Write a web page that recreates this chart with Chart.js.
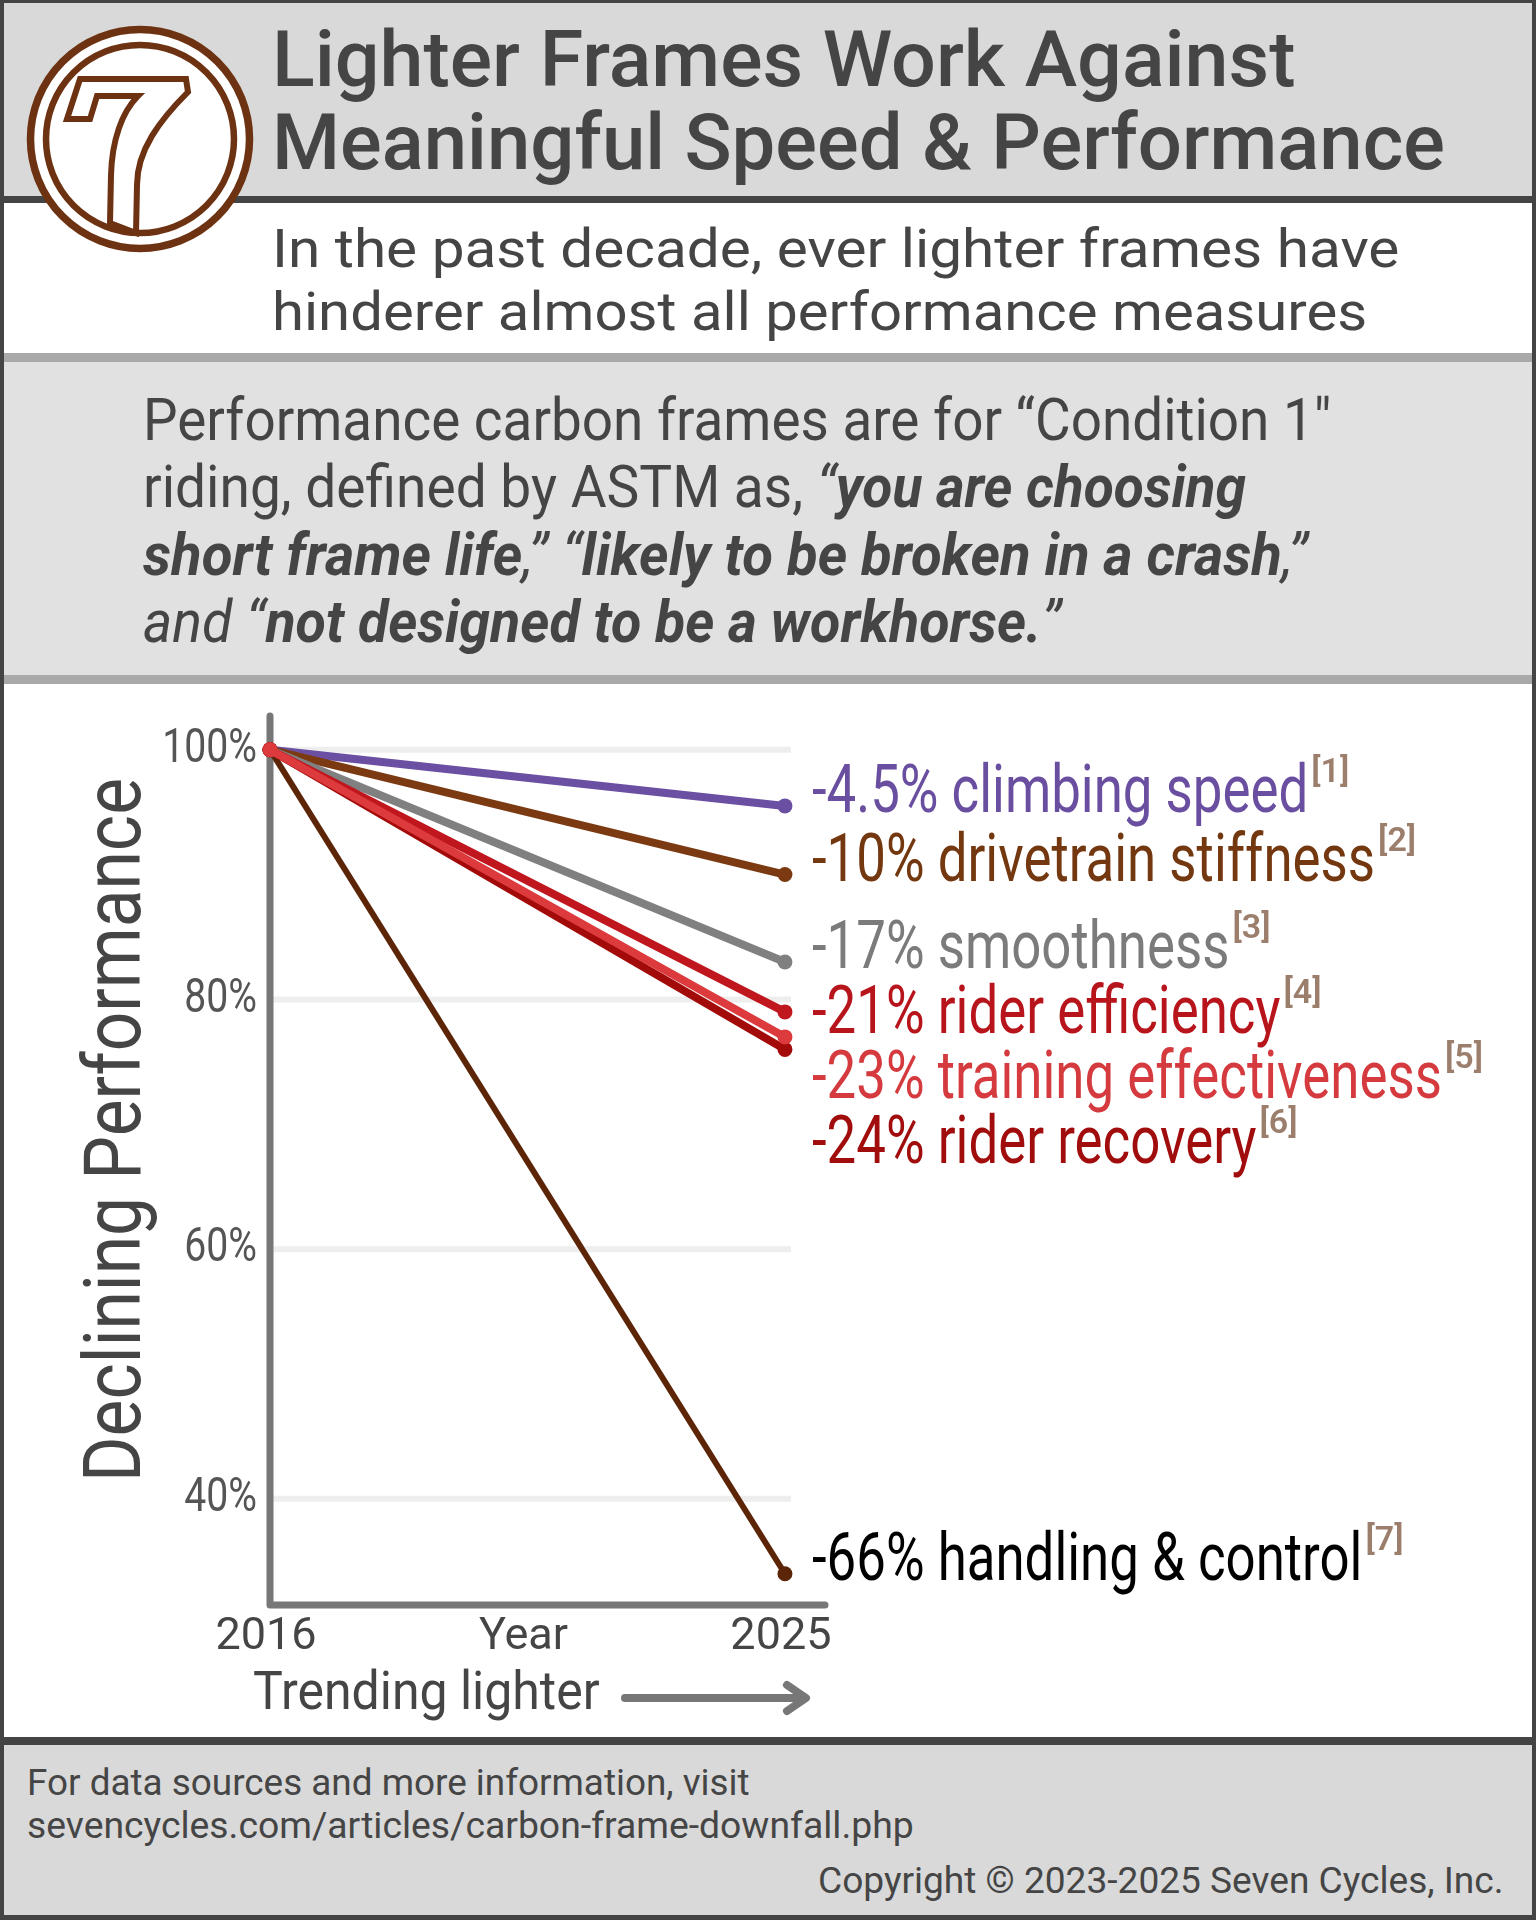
<!DOCTYPE html>
<html>
<head>
<meta charset="utf-8">
<script src="https://cdn.jsdelivr.net/npm/chart.js@4.4.1/dist/chart.umd.min.js"></script>
<style>
  html, body { margin: 0; padding: 0; }
  body { width: 1536px; height: 1920px; position: relative; overflow: hidden; background: #444; font-family: Roboto, sans-serif; }
  .blk { position: absolute; left: 4px; width: 1528px; }
  .t { position: absolute; white-space: nowrap; line-height: 1; transform-origin: 0 0; color: #454545; }
  .t b { font-weight: 700; }
</style>
</head>
<body>
<script>
// ---- data ----
const years = [2016, 2025];
const climbingSpeed = [100, 95.5];
const drivetrainStiffness = [100, 90];
const smoothness = [100, 83];
const riderEfficiency = [100, 79];
const trainingEffectiveness = [100, 77];
const riderRecovery = [100, 76];
const handlingControl = [100, 34];
const seriesNames = ['climbing speed', 'drivetrain stiffness', 'smoothness', 'rider efficiency', 'training effectiveness', 'rider recovery', 'handling & control'];
const changeLabels = ['-4.5%', '-10%', '-17%', '-21%', '-23%', '-24%', '-66%'];
const footnotes = ['[1]', '[2]', '[3]', '[4]', '[5]', '[6]', '[7]'];
const yTickValues = [40, 60, 80, 100];
const xTickValues = [2016, 2020.5, 2025];
const xTickLabels = ['2016', 'Year', '2025'];
const yAxisTitle = 'Declining Performance';
</script>

<div class="blk" style="top:3px;height:193px;background:#d9d9d9;"></div>
<div class="blk" style="top:203px;height:150px;background:#ffffff;"></div>
<div class="blk" style="top:353px;height:9px;background:#a9a9a9;"></div>
<div class="blk" style="top:362px;height:313px;background:#e1e1e1;"></div>
<div class="blk" style="top:675px;height:9px;background:#a9a9a9;"></div>
<div class="blk" style="top:684px;height:1053px;background:#ffffff;"></div>
<div class="blk" style="top:1745px;height:170px;background:#d9d9d9;"></div>

<!-- title -->
<div class="t" data-w="1024" style="left:272px;top:22px;font-size:77px;font-weight:500;">Lighter Frames Work Against</div>
<div class="t" data-w="1173" style="left:272px;top:105px;font-size:77px;font-weight:500;">Meaningful Speed &amp; Performance</div>

<!-- subtitle -->
<div class="t" data-w="1127" style="left:272px;top:222px;font-size:54px;">In the past decade, ever lighter frames have</div>
<div class="t" data-w="1095" style="left:272px;top:285px;font-size:54px;">hinderer almost all performance measures</div>

<!-- quote -->
<div class="t" data-w="1188" style="left:143px;top:390px;font-size:59px;">Performance carbon frames are for “Condition 1"</div>
<div class="t" data-w="1103" style="left:143px;top:457px;font-size:59px;">riding, defined by ASTM as, <i>“</i><b><i>you are choosing</i></b></div>
<div class="t" data-w="1165" style="left:143px;top:525px;font-size:59px;"><b><i>short frame life</i></b><i>,” “</i><b><i>likely to be broken in a crash</i></b><i>,”</i></div>
<div class="t" data-w="918" style="left:143px;top:592px;font-size:59px;"><i>and “</i><b><i>not designed to be a workhorse.</i></b><i>”</i></div>

<!-- chart -->
<canvas id="c" width="1536" height="1053" style="position:absolute;left:0;top:684px;"></canvas>

<div class="t" data-w="347" style="left:253px;top:1665px;font-size:53px;">Trending lighter</div>
<svg style="position:absolute;left:0;top:1660px;" width="840" height="80" viewBox="0 1660 840 80">
  <g stroke="#777" stroke-width="8" stroke-linecap="round" stroke-linejoin="round" fill="none">
    <line x1="625" y1="1698" x2="804" y2="1698"/>
    <polyline points="787,1685 806,1698 787,1711"/>
  </g>
</svg>

<!-- footer -->
<div class="t" data-w="723" style="left:27px;top:1765px;font-size:36px;">For data sources and more information, visit</div>
<div class="t" data-w="887" style="left:27px;top:1808px;font-size:36px;">sevencycles.com/articles/carbon-frame-downfall.php</div>
<div class="t" data-w="686" style="left:818px;top:1863px;font-size:36px;">Copyright © 2023-2025 Seven Cycles, Inc.</div>

<!-- logo -->
<svg style="position:absolute;left:0;top:0;" width="280" height="280" viewBox="0 0 280 280">
  <circle cx="140" cy="139" r="109.5" fill="#ffffff" stroke="#6d3211" stroke-width="7.5"/>
  <circle cx="140" cy="139" r="94" fill="none" stroke="#6d3211" stroke-width="6.5"/>
  <path d="M80,79 L186,79 L188,92 C160,120 137,150 137,185 L136,233 L110,223 L111,175 C112,140 122,112 138,96 L97,96 L90,119 L67,119 Z"
        fill="#ffffff" stroke="#6d3211" stroke-width="6" stroke-linejoin="miter"/>
</svg>

<script>
// fit text widths
document.querySelectorAll('.t[data-w]').forEach(el => {
  const target = parseFloat(el.dataset.w);
  const nat = el.scrollWidth;
  if (nat > 0) el.style.transform = 'scaleX(' + (target / nat) + ')';
});

const seriesValues = [climbingSpeed, drivetrainStiffness, smoothness, riderEfficiency, trainingEffectiveness, riderRecovery, handlingControl];
const lineColors = ['#6b4fa2', '#7b3a12', '#808080', '#c0171f', '#dc3a3d', '#a30a0a', '#5c2508'];
const labelColors = ['#6a4fa1', '#743811', '#7b7b7b', '#b8141c', '#d43a3e', '#a10d0d', '#000000'];
const drawOrder = [5, 4, 3, 1, 0, 2, 6];
const lineWidths = [8, 8, 8, 8, 8, 8, 6];

const datasets = seriesValues.map((vals, i) => ({
  label: seriesNames[i],
  data: years.map((yr, j) => ({ x: yr, y: vals[j] })),
  borderColor: lineColors[i],
  backgroundColor: lineColors[i],
  pointBackgroundColor: lineColors[i],
  borderWidth: lineWidths[i],
  pointRadius: 7.5,
  pointBorderWidth: 0,
  pointHoverRadius: 7.5,
  tension: 0,
  clip: false,
  order: drawOrder[i]
}));

const CONDENSE = 0.8;

const decor = {
  id: 'decor',
  afterLayout(chart) {
    const s = chart.scales.y;
    if (!s.__condensed) {
      const orig = s.drawLabels.bind(s);
      s.drawLabels = function (area) {
        const ctx = this.ctx;
        const anchor = chart.chartArea.left - this.options.ticks.padding;
        ctx.save();
        ctx.translate(anchor, 0);
        ctx.scale(CONDENSE, 1);
        ctx.translate(-anchor, 0);
        orig(area);
        ctx.restore();
      };
      s.__condensed = true;
    }
  },
  beforeDatasetsDraw(chart) {
    const { ctx, chartArea: a, scales: { x, y } } = chart;
    ctx.save();
    // gridlines
    ctx.strokeStyle = '#eeeeee';
    ctx.lineWidth = 6;
    const gEnd = x.getPixelForValue(years[years.length - 1]) + 6;
    yTickValues.forEach(v => {
      const py = y.getPixelForValue(v);
      ctx.beginPath(); ctx.moveTo(a.left, py); ctx.lineTo(gEnd, py); ctx.stroke();
    });
    // axis lines
    ctx.strokeStyle = '#777';
    ctx.lineWidth = 7;
    ctx.lineCap = 'round';
    ctx.lineJoin = 'round';
    ctx.beginPath();
    ctx.moveTo(a.left, a.top);
    ctx.lineTo(a.left, a.bottom);
    ctx.lineTo(a.right, a.bottom);
    ctx.stroke();
    // y axis title
    ctx.translate(140, 446);
    ctx.rotate(-Math.PI / 2);
    ctx.font = '400 80px Roboto';
    const w = ctx.measureText(yAxisTitle).width;
    ctx.scale(704 / w, 1);
    ctx.fillStyle = '#454545';
    ctx.textAlign = 'center';
    ctx.textBaseline = 'alphabetic';
    ctx.fillText(yAxisTitle, 0, 0);
    ctx.restore();
  },
  afterDatasetsDraw(chart) {
    const { ctx, scales: { x, y } } = chart;
    ctx.save();
    const lx = x.getPixelForValue(years[years.length - 1]) + 27;
    let prev = -Infinity;
    seriesValues.forEach((vals, i) => {
      const py = y.getPixelForValue(vals[vals.length - 1]);
      const base = Math.max(py + 6, prev + 65);
      prev = base;
      const txt = changeLabels[i] + ' ' + seriesNames[i];
      ctx.font = '400 66px Roboto';
      ctx.fillStyle = labelColors[i];
      ctx.textAlign = 'left';
      ctx.textBaseline = 'alphabetic';
      const tw = ctx.measureText(txt).width * CONDENSE;
      ctx.save();
      ctx.translate(lx, base);
      ctx.scale(CONDENSE, 1);
      ctx.fillText(txt, 0, 0);
      ctx.restore();
      ctx.font = '600 34px Roboto';
      ctx.fillStyle = '#9c7e6c';
      ctx.fillText(footnotes[i], lx + tw + 3, base - 30);
    });
    ctx.restore();
  }
};

new Chart(document.getElementById('c'), {
  type: 'line',
  data: { datasets },
  plugins: [decor],
  options: {
    responsive: false,
    animation: false,
    devicePixelRatio: 1,
    events: [],
    layout: { padding: { left: 0, top: 32, right: 711, bottom: 0 } },
    plugins: { legend: { display: false }, tooltip: { enabled: false } },
    scales: {
      x: {
        type: 'linear',
        min: 2016,
        max: 2025.7,
        afterBuildTicks: s => { s.ticks = xTickValues.map(v => ({ value: v })); },
        afterFit: s => { s.height = 132; s.paddingLeft = 0; s.paddingRight = 0; },
        grid: { display: false, drawTicks: false },
        border: { display: false },
        ticks: {
          autoSkip: false, maxRotation: 0, padding: 6, labelOffset: -4,
          callback: (v, i) => xTickLabels[i],
          font: { family: 'Roboto', size: 45 },
          color: '#454545'
        }
      },
      y: {
        type: 'linear',
        min: 31.5,
        max: 102.7,
        afterBuildTicks: s => { s.ticks = yTickValues.map(v => ({ value: v })); },
        afterFit: s => { s.width = 270; s.paddingTop = 0; s.paddingBottom = 0; },
        grid: { display: false, drawTicks: false },
        border: { display: false },
        ticks: {
          padding: 13,
          callback: v => v + '%',
          font: { family: 'Roboto', size: 49, weight: '400' },
          color: '#555555'
        }
      }
    }
  }
});
</script>
</body>
</html>
